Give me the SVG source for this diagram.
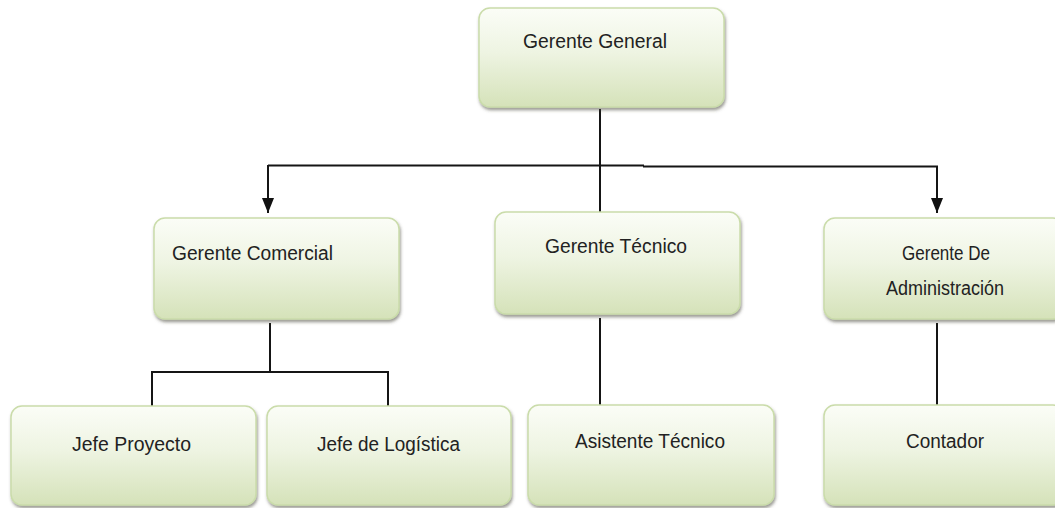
<svg xmlns="http://www.w3.org/2000/svg" width="1055" height="508" viewBox="0 0 1055 508">
  <defs>
    <linearGradient id="boxFill" x1="0" y1="0" x2="0" y2="1">
      <stop offset="0" stop-color="#fbfdf7"/>
      <stop offset="0.45" stop-color="#eef4e2"/>
      <stop offset="1" stop-color="#d5e2b9"/>
    </linearGradient>
    <filter id="shadow" x="-5%" y="-5%" width="112%" height="115%">
      <feDropShadow dx="1" dy="2.5" stdDeviation="1.5" flood-color="#4a4a3a" flood-opacity="0.55"/>
    </filter>
    <marker id="arrow" markerUnits="userSpaceOnUse" markerWidth="16" markerHeight="12" refX="15" refY="6" orient="auto" viewBox="0 0 16 12">
      <path d="M0,0 L15,6 L0,12 Z" fill="#111"/>
    </marker>
  </defs>
  <style>
    .box { fill: url(#boxFill); stroke: #cadcaa; stroke-width: 1.5; filter: url(#shadow); }
    .lbl { font-family: "Liberation Sans", Arial, sans-serif; font-size: 20px; fill: #222; }
    .conn { fill: none; stroke: #151515; stroke-width: 2; }
  </style>
  <rect width="1055" height="508" fill="#ffffff"/>

  <g id="connectors">
    <line class="conn" x1="600" y1="109" x2="600" y2="212"/>
    <line class="conn" x1="268" y1="165.5" x2="644" y2="165.5" stroke="#3a3a3a"/>
    <line class="conn" x1="643" y1="166.5" x2="938" y2="166.5"/>
    <line class="conn" x1="268" y1="165" x2="268" y2="213" marker-end="url(#arrow)"/>
    <line class="conn" x1="937" y1="166" x2="937" y2="213" marker-end="url(#arrow)"/>
    <line class="conn" x1="270" y1="323" x2="270" y2="372"/>
    <polyline class="conn" points="152,406 152,372 388,372 388,406"/>
    <line class="conn" x1="600" y1="318" x2="600" y2="406"/>
    <line class="conn" x1="937" y1="323" x2="937" y2="406"/>
  </g>

  <g id="gerente-general">
    <rect class="box" x="479" y="8" width="245" height="99" rx="11"/>
    <text class="lbl" x="523" y="48" textLength="144" lengthAdjust="spacingAndGlyphs">Gerente General</text>
  </g>
  <g id="gerente-comercial">
    <rect class="box" x="154" y="218" width="245" height="101" rx="11"/>
    <text class="lbl" x="172" y="260" textLength="161" lengthAdjust="spacingAndGlyphs">Gerente Comercial</text>
  </g>
  <g id="gerente-tecnico">
    <rect class="box" x="495" y="212" width="245" height="102" rx="11"/>
    <text class="lbl" x="545" y="253" textLength="142" lengthAdjust="spacingAndGlyphs">Gerente Técnico</text>
  </g>
  <g id="gerente-administracion">
    <rect class="box" x="824" y="218" width="240" height="101" rx="11"/>
    <text class="lbl" x="902" y="260" textLength="88" lengthAdjust="spacingAndGlyphs">Gerente De</text>
    <text class="lbl" x="886" y="295" textLength="118" lengthAdjust="spacingAndGlyphs">Administración</text>
  </g>
  <g id="jefe-proyecto">
    <rect class="box" x="11" y="406" width="245" height="99" rx="11"/>
    <text class="lbl" x="72" y="451" textLength="119" lengthAdjust="spacingAndGlyphs">Jefe Proyecto</text>
  </g>
  <g id="jefe-logistica">
    <rect class="box" x="267" y="406" width="244" height="99" rx="11"/>
    <text class="lbl" x="317" y="451" textLength="143" lengthAdjust="spacingAndGlyphs">Jefe de Logística</text>
  </g>
  <g id="asistente-tecnico">
    <rect class="box" x="528" y="405" width="246" height="100" rx="11"/>
    <text class="lbl" x="575" y="448" textLength="150" lengthAdjust="spacingAndGlyphs">Asistente Técnico</text>
  </g>
  <g id="contador">
    <rect class="box" x="824" y="405" width="240" height="100" rx="11"/>
    <text class="lbl" x="906" y="448" textLength="78" lengthAdjust="spacingAndGlyphs">Contador</text>
  </g>
</svg>
